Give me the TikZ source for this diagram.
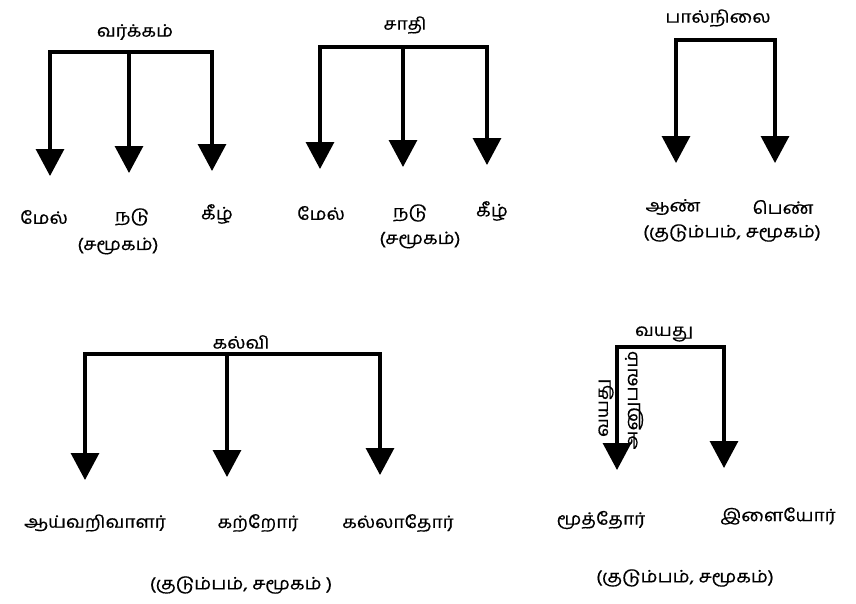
\documentclass[tikz,border=0pt]{standalone}
\usepackage{fontspec}
\newfontfamily\tamil[Script=Tamil,FakeStretch=1.12,FakeBold=0.5]{Hind Madurai}
\usetikzlibrary{arrows.meta}
\tikzset{
  lbl/.style={font=\tamil\fontsize{17}{20}\selectfont, inner sep=1pt},
  bar/.style={line width=3.2pt, line cap=rect},
  arr/.style={line width=3.2pt, -{Triangle[width=28pt,length=27pt]}},
}
\begin{document}
\begin{tikzpicture}[x=1pt,y=-1pt]
\useasboundingbox (0,0) rectangle (856,603);
% ---------- D1 ----------
\node[lbl] (t1) at (135,32) {வர்க்கம்};
\coordinate (b1l) at (50,52); \coordinate (b1m) at (129,52); \coordinate (b1r) at (212,52);
\coordinate (e11) at (50,176); \coordinate (e12) at (129,173); \coordinate (e13) at (212,171);
\draw[bar] (b1l) -- (b1r);
\draw[arr] (b1l) -- (e11);
\draw[arr] (b1m) -- (e12);
\draw[arr] (b1r) -- (e13);
\node[lbl] (c11) at (44,217) {மேல்};
\node[lbl] (c12) at (132,217) {நடு};
\node[lbl] (c13) at (217,214) {கீழ்};
\node[lbl] (p1) at (118,246) {(சமூகம்)};
% ---------- D2 ----------
\node[lbl] (t2) at (405,25) {சாதி};
\coordinate (b2l) at (320,47); \coordinate (b2m) at (403,47); \coordinate (b2r) at (487,47);
\coordinate (e21) at (320,169); \coordinate (e22) at (403,167); \coordinate (e23) at (487,165);
\draw[bar] (b2l) -- (b2r);
\draw[arr] (b2l) -- (e21);
\draw[arr] (b2m) -- (e22);
\draw[arr] (b2r) -- (e23);
\node[lbl] (c21) at (321,213) {மேல்};
\node[lbl] (c22) at (410,213) {நடு};
\node[lbl] (c23) at (492,211) {கீழ்};
\node[lbl] (p2) at (420,240) {(சமூகம்)};
% ---------- D3 ----------
\node[lbl] (t3) at (718,18) {பால்நிலை};
\coordinate (b3l) at (676,40); \coordinate (b3r) at (775,40);
\coordinate (e31) at (676,163); \coordinate (e32) at (775,163);
\draw[bar] (b3l) -- (b3r);
\draw[arr] (b3l) -- (e31);
\draw[arr] (b3r) -- (e32);
\node[lbl] (c31) at (673,207) {ஆண்};
\node[lbl] (c32) at (783,207) {பெண்};
\node[lbl] (p3) at (732,233) {(குடும்பம், சமூகம்)};
% ---------- D4 ----------
\node[lbl] (t4) at (241,342) {கல்வி};
\coordinate (b4l) at (85,354); \coordinate (b4m) at (227,354); \coordinate (b4r) at (380,354);
\coordinate (e41) at (85,480); \coordinate (e42) at (227,477); \coordinate (e43) at (380,475);
\draw[bar] (b4l) -- (b4r);
\draw[arr] (b4l) -- (e41);
\draw[arr] (b4m) -- (e42);
\draw[arr] (b4r) -- (e43);
\node[lbl] (c41) at (95,523) {ஆய்வறிவாளர்};
\node[lbl] (c42) at (258,523) {கற்றோர்};
\node[lbl] (c43) at (398,523) {கல்லாதோர்};
\node[lbl] (p4) at (241,585) {(குடும்பம், சமூகம் )};
% ---------- D5 ----------
\node[lbl] (t5) at (664,334) {வயது};
\coordinate (b5l) at (617,347); \coordinate (b5r) at (724,347);
\coordinate (e51) at (617,470); \coordinate (e52) at (724,468);
\draw[bar] (b5l) -- (b5r);
\draw[arr] (b5l) -- (e51);
\draw[arr] (b5r) -- (e52);
\node[lbl, rotate=90] (r51) at (606,408) {வயது};
\node[lbl, rotate=90] (r52) at (634,400) {அனுபவம்};
\node[lbl] (c51) at (601,520) {மூத்தோர்};
\node[lbl] (c52) at (778,516) {இளையோர்};
\node[lbl] (p5) at (685,578) {(குடும்பம், சமூகம்)};
\end{tikzpicture}
\end{document}
